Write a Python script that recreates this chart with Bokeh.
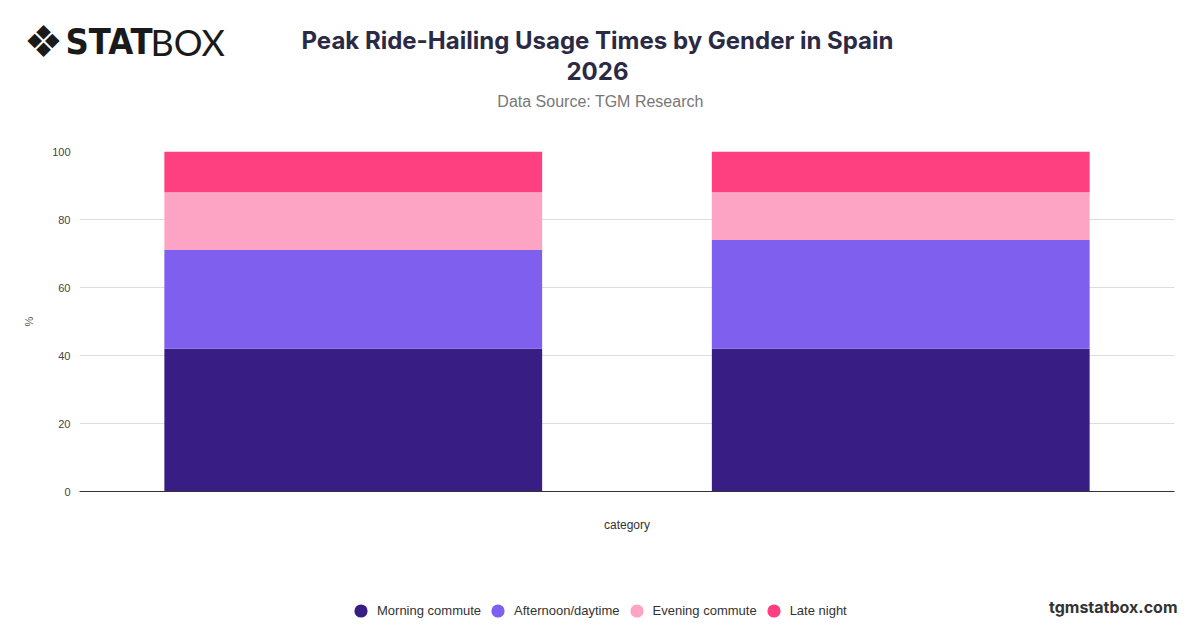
from bokeh.plotting import figure
from bokeh.layouts import column, row
from bokeh.models import (FactorRange, Range1d, FixedTicker, Legend, LegendItem,
                          ColumnDataSource)
from bokeh.core.properties import value
from bokeh.embed import file_html
from bokeh.resources import INLINE

# ---- data ----
categories = ["Male", "Female"]
series = ["Morning commute", "Afternoon/daytime", "Evening commute", "Late night"]
morning = [42, 42]
afternoon = [29, 32]
evening = [17, 14]
late_night = [12, 12]
colors = ["#381D84", "#7E5FEE", "#FDA3C3", "#FE4080"]
y_ticks = [0, 20, 40, 60, 80, 100]

title_lines = ["Peak Ride-Hailing Usage Times by Gender in Spain", "2026"]
subtitle = "Data Source: TGM Research"
site = "tgmstatbox.com"

BODY = "Liberation Sans"
W = 1184
H_HEAD, H_MAIN, H_FOOT = 141, 400, 87


def blank(h):
    f = figure(width=W, height=h, x_range=Range1d(0, W), y_range=Range1d(h, 0),
               min_border=0, output_backend="svg", toolbar_location=None,
               outline_line_color=None, background_fill_color="white",
               border_fill_color="white")
    f.axis.visible = False
    f.grid.visible = False
    return f


def txt(f, x, y, t, size, color, font, style="normal", align="left"):
    f.text(x=[x], y=[y], text=[t], text_font=value(font), text_font_size=size,
           text_color=color, text_font_style=style, text_align=align,
           text_baseline="middle")


# ---- header ----
head = blank(H_HEAD)
txt(head, 597, 40, title_lines[0], "24px", "#2B2A45", "Inter", "bold", "center")
txt(head, 597, 70, title_lines[1], "24px", "#2B2A45", "Inter", "bold", "center")
txt(head, 600, 101, subtitle, "16px", "#777777", BODY, "normal", "center")
# logo
txt(head, 43, 41, "\u2756", "44px", "#1a1a1a", "DejaVu Sans", "normal", "center")
txt(head, 65, 41, "STAT", "36px", "#1a1a1a", "DejaVu Sans Condensed", "bold", "left")
txt(head, 150, 41, "BOX", "36px", "#1a1a1a", "Lato", "normal", "left")

# ---- main chart ----
src = ColumnDataSource({"cat": categories, series[0]: morning, series[1]: afternoon,
                        series[2]: evening, series[3]: late_night})

p = figure(x_range=FactorRange(*categories, range_padding=0),
           y_range=Range1d(0, 100),
           width=W, height=H_MAIN,
           min_border_left=79, min_border_right=10,
           min_border_top=10, min_border_bottom=50,
           output_backend="svg", toolbar_location=None,
           background_fill_color="white", border_fill_color="white",
           outline_line_color=None)

p.vbar_stack(series, x="cat", width=0.69, source=src, color=colors, line_color=None)

p.yaxis.ticker = FixedTicker(ticks=y_ticks)
p.yaxis.axis_line_color = None
p.yaxis.major_tick_line_color = None
p.yaxis.major_tick_out = 0
p.yaxis.minor_tick_line_color = None
p.yaxis.major_label_text_font = BODY
p.yaxis.major_label_text_font_size = "11px"
p.yaxis.major_label_text_color = "#444444"
p.yaxis.major_label_standoff = 9
p.yaxis.axis_label = "%"
p.yaxis.axis_label_text_font = BODY
p.yaxis.axis_label_text_font_size = "11px"
p.yaxis.axis_label_text_font_style = "normal"
p.yaxis.axis_label_text_color = "#555555"
p.yaxis.axis_label_standoff = 14

# the reference shows no category tick labels: keep them undrawn
p.xaxis.axis_line_color = "#333333"
p.xaxis.axis_line_width = 1
p.xaxis.major_tick_line_color = None
p.xaxis.major_tick_out = 0
p.xaxis.minor_tick_line_color = None
p.xaxis.major_label_text_font = BODY
p.xaxis.major_label_text_font_size = "11px"
p.xaxis.major_label_text_color = None
p.xaxis.major_label_standoff = 0
p.xaxis.axis_label = "category"
p.xaxis.axis_label_text_font = BODY
p.xaxis.axis_label_text_font_size = "12px"
p.xaxis.axis_label_text_font_style = "normal"
p.xaxis.axis_label_text_color = "#333333"
p.xaxis.axis_label_standoff = 26

p.xgrid.grid_line_color = None
p.ygrid.grid_line_color = "#dddddd"
p.ygrid.grid_line_width = 1

# ---- footer with legend ----
foot = blank(H_FOOT)
items = []
for name, c in zip(series, colors):
    r = foot.scatter(x=[float("nan")], y=[float("nan")], marker="circle", size=14,
                     fill_color=c, line_color=None)
    items.append(LegendItem(label=name, renderers=[r]))
legend = Legend(items=items, orientation="horizontal", location=(344, 0),
                glyph_width=33, glyph_height=35, label_standoff=0, spacing=0,
                padding=0, margin=0, border_line_color=None,
                background_fill_alpha=0,
                label_text_font=BODY, label_text_font_size="13px",
                label_text_color="#333333")
foot.add_layout(legend, "center")
txt(foot, 1177, 65, site, "16px", "#333333", "Inter", "bold", "right")

layout = column(head, row(p), foot, spacing=0)
open("out.html", "w").write(file_html(layout, INLINE))
